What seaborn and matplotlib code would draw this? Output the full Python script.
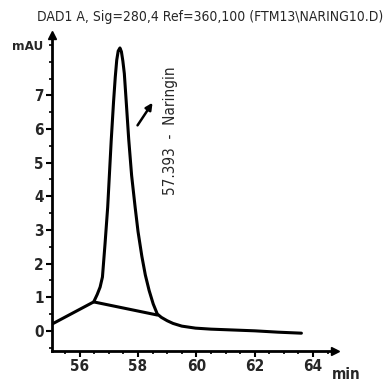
"""Chromatogram of naringin peak (DAD1 A)."""
import matplotlib
matplotlib.use("Agg")
import matplotlib.pyplot as plt
import numpy as np
import pandas as pd
import seaborn as sns
from matplotlib.ticker import MultipleLocator

# signal trace
time_min = [55.05, 56.48, 56.60, 56.70, 56.78, 56.87, 56.96, 57.08, 57.16, 57.22,
            57.27, 57.32, 57.38, 57.43, 57.48, 57.53, 57.60, 57.68, 57.78, 57.90,
            58.00, 58.13, 58.25, 58.38, 58.52, 58.66, 58.80, 59.00, 59.20, 59.50,
            59.97, 60.50, 61.10, 62.00, 62.80, 63.60]
signal_mau = [0.20, 0.86, 1.08, 1.30, 1.60, 2.60, 3.68, 5.65, 6.80, 7.55,
              8.05, 8.32, 8.41, 8.30, 8.02, 7.65, 6.75, 5.70, 4.62, 3.68,
              2.95, 2.22, 1.66, 1.20, 0.80, 0.50, 0.40, 0.30, 0.22, 0.14,
              0.08, 0.05, 0.03, 0.00, -0.04, -0.07]

# integration baseline under the peak
base_time = [56.48, 58.66]
base_mau = [0.86, 0.47]

peak_rt = 57.393
peak_name = "Naringin"
title = "DAD1 A, Sig=280,4 Ref=360,100 (FTM13\\NARING10.D)"

sns.set_theme(style="ticks")
plt.rcParams["font.family"] = ["DejaVu Sans"]
plt.rcParams["font.stretch"] = "condensed"

fig = plt.figure(figsize=(3.85, 3.87), dpi=100)
ax = fig.add_axes([0.135, 0.093, 0.735, 0.817])

trace = pd.DataFrame({"t": time_min, "y": signal_mau})
sns.lineplot(data=trace, x="t", y="y", sort=False, estimator=None,
             color="black", lw=2.2, ax=ax)
sns.lineplot(x=base_time, y=base_mau, sort=False, estimator=None,
             color="black", lw=2.2, ax=ax)

ax.set_xlim(55.05, 64.75)
ax.set_ylim(-0.6, 8.8)
ax.set_xticks([56, 58, 60, 62, 64])
ax.set_xticklabels(["56", "58", "60", "62", "64"])
ax.xaxis.set_minor_locator(MultipleLocator(0.5))
ax.set_yticks(range(8))
ax.yaxis.set_minor_locator(MultipleLocator(0.5))
ax.tick_params(axis="both", which="major", length=4, width=1.5, color="black",
               labelsize=11, pad=2)
ax.tick_params(axis="both", which="minor", length=2.5, width=1.2, color="black")
for lab in ax.get_xticklabels() + ax.get_yticklabels():
    lab.set_fontweight("bold")
ax.set_xlabel("")
ax.set_ylabel("")

sns.despine(ax=ax)
ax.spines["left"].set_linewidth(2)
ax.spines["bottom"].set_linewidth(2)
ax.spines["left"].set_color("black")
ax.spines["bottom"].set_color("black")

# arrow heads on the axes
ax.plot(1, 0, ">", color="black", ms=6, transform=ax.transAxes, clip_on=False)
ax.plot(0, 1, "^", color="black", ms=6, transform=ax.transAxes, clip_on=False)

ax.text(-0.03, 0.962, "mAU", transform=ax.transAxes, ha="right", va="center",
        fontsize=9.5, fontweight="bold")
ax.text(0.99, -0.075, "min", transform=ax.transAxes, ha="left", va="center",
        fontsize=11, fontweight="bold")

# peak label
ax.annotate("", xy=(58.55, 6.85), xytext=(57.93, 6.04),
            arrowprops=dict(arrowstyle="-|>", color="black", lw=1.8,
                            mutation_scale=10))
ax.text(59.1, 5.95, "{:.3f}  -  {}".format(peak_rt, peak_name), rotation=90,
        ha="center", va="center", fontsize=11)

fig.text(0.545, 0.955, title, ha="center", va="center", fontsize=10)

fig.savefig("out.png", dpi=100)
